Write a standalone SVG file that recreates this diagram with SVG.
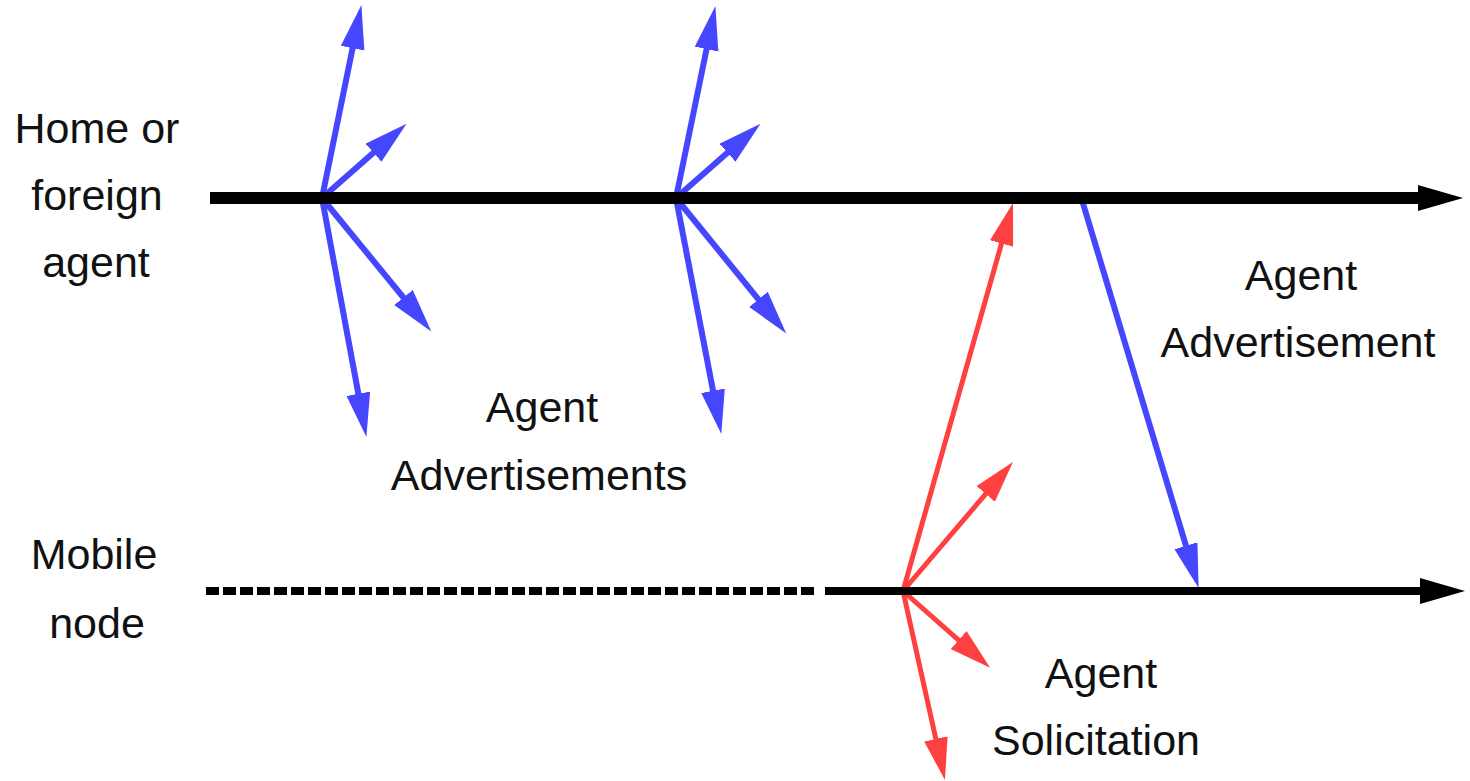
<svg xmlns="http://www.w3.org/2000/svg" width="1470" height="781" viewBox="0 0 1470 781">
  <style>
    .label { font-family: "Liberation Sans", Arial, sans-serif; font-size: 43px; fill: #111; text-anchor: middle; }
    .adv { stroke: #4646ff; stroke-width: 6; fill: none; marker-end: url(#headBlue); }
    .sol { stroke: #ff4040; stroke-width: 5; fill: none; marker-end: url(#headRed); }
    .timeline { stroke: #000; fill: none; }
  </style>
  <defs>
    <marker id="headBlue" markerUnits="userSpaceOnUse" markerWidth="46" markerHeight="26" refX="20" refY="12" orient="auto">
      <path d="M0,0 L44,12 L0,24 z" fill="#4646ff"/>
    </marker>
    <marker id="headRed" markerUnits="userSpaceOnUse" markerWidth="44" markerHeight="26" refX="20" refY="12" orient="auto">
      <path d="M0,0 L42,12 L0,24 z" fill="#ff4040"/>
    </marker>
    <marker id="headBlack" markerUnits="userSpaceOnUse" markerWidth="48" markerHeight="28" refX="6" refY="13" orient="auto">
      <path d="M0,0 L45,13 L0,26 z" fill="#000"/>
    </marker>
  </defs>

  <rect width="1470" height="781" fill="#fff"/>

  <g id="connectors">
    <!-- first advertisement burst -->
    <path class="adv" d="M322,198 L356.6,28.6"/>
    <path class="adv" d="M322,198 L388.5,139.5"/>
    <path class="adv" d="M322,198 L416.1,313"/>
    <path class="adv" d="M322,198 L362,413.4"/>
    <!-- second advertisement burst -->
    <path class="adv" d="M676,198 L710.6,29.5"/>
    <path class="adv" d="M676,198 L742.5,139.5"/>
    <path class="adv" d="M676,198 L771.1,314.9"/>
    <path class="adv" d="M676,198 L716.8,410.4"/>
    <!-- advertisement answering the solicitation -->
    <path class="adv" d="M1082,200 L1191.7,564.9"/>
    <!-- solicitation burst from the mobile node -->
    <path class="sol" d="M903,591 L1007,224.2"/>
    <path class="sol" d="M903,591 L998.7,478.7"/>
    <path class="sol" d="M903,591 L973.6,653.3"/>
    <path class="sol" d="M903,591 L940.2,758.5"/>
  </g>

  <g id="agent-timeline">
    <path class="timeline" d="M210,198 L1424,198" stroke-width="12" marker-end="url(#headBlack)"/>
  </g>

  <g id="mobile-timeline">
    <path class="timeline" d="M206,591 L815,591" stroke-width="8" stroke-dasharray="13 4"/>
    <path class="timeline" d="M825,591 L1426,591" stroke-width="8" marker-end="url(#headBlack)"/>
  </g>

  <g id="agent-label">
    <text class="label" x="97" y="143">Home or</text>
    <text class="label" x="97" y="210">foreign</text>
    <text class="label" x="96" y="277">agent</text>
  </g>

  <g id="mobile-label">
    <text class="label" x="94" y="569">Mobile</text>
    <text class="label" x="97" y="638">node</text>
  </g>

  <g id="advertisements-label">
    <text class="label" x="542" y="422">Agent</text>
    <text class="label" x="539" y="490">Advertisements</text>
  </g>

  <g id="advertisement-label">
    <text class="label" x="1301" y="290">Agent</text>
    <text class="label" x="1298" y="357">Advertisement</text>
  </g>

  <g id="solicitation-label">
    <text class="label" x="1101" y="688">Agent</text>
    <text class="label" x="1096" y="755">Solicitation</text>
  </g>
</svg>
